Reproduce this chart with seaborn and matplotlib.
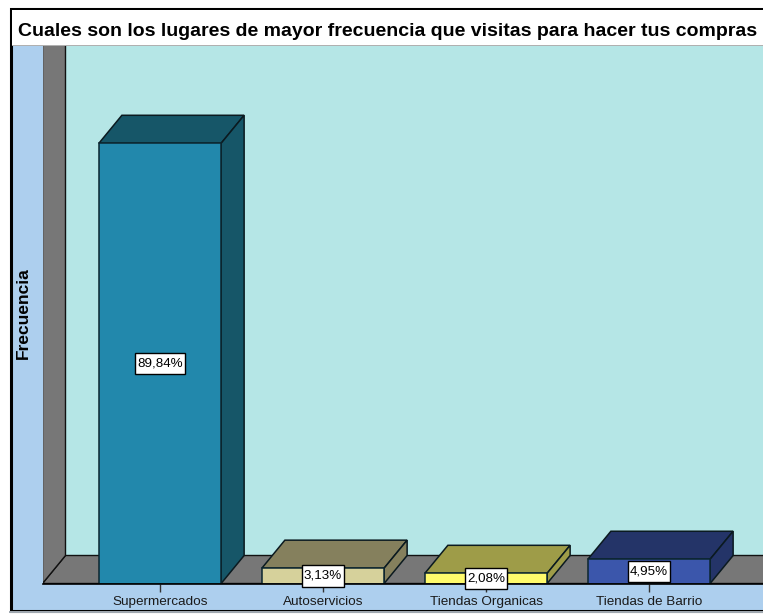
import matplotlib
matplotlib.use("Agg")
import matplotlib.pyplot as plt
from matplotlib.patches import Polygon, Rectangle
from matplotlib.path import Path
import pandas as pd
import seaborn as sns

categories = ["Supermercados", "Autoservicios", "Tiendas Organicas", "Tiendas de Barrio"]
percentages = [89.84, 3.13, 2.08, 4.95]
labels = ["89,84%", "3,13%", "2,08%", "4,95%"]
front_colors = ["#2288AC", "#D6D19B", "#FFFB6C", "#3B56AB"]
shade_colors = ["#165668", "#85805D", "#9E9C48", "#243468"]
title = "Cuales son los lugares de mayor frecuencia que visitas para hacer tus compras"
ylabel = "Frecuencia"

W, H = 763, 616
plt.rcParams["font.family"] = ["Liberation Sans", "DejaVu Sans"]
fig = plt.figure(figsize=(W / 100, H / 100), dpi=100, facecolor="white")


def fx(x):
    return x / W


def fy(y):
    return 1 - y / H


def frect(x0, y0, x1, y1, **kw):
    fig.add_artist(Rectangle((fx(x0), fy(y1)), (x1 - x0) / W, (y1 - y0) / H,
                             transform=fig.transFigure, **kw))


def label_box(x0, y0, width, height, mutation_size):
    """Square box with a small side margin and a taller vertical margin."""
    px = 0.17 * mutation_size
    py = 0.36 * mutation_size
    a, b, c, d = x0 - px, y0 - py, x0 + width + px, y0 + height + py
    return Path([(a, b), (c, b), (c, d), (a, d), (a, b)], closed=True)


# outer frame and panels
frect(10.5, 9, W + 5, 611, facecolor="#ADCFEE", edgecolor="black", linewidth=2.2, zorder=-5)
frect(12, 10, W + 5, 45.5, facecolor="white", edgecolor="none", zorder=-4)
frect(12, 45, W + 5, 46, facecolor="#B0B0B0", edgecolor="none", zorder=-4)
frect(9, 610.5, W + 5, 612.5, facecolor="#A0A8B0", edgecolor="none", zorder=-4)

# plot axes: left edge is the front of the left wall, bottom is the floor front
ax = fig.add_axes([fx(42.5), fy(583.5), (W - 42.5) / W, (583.5 - 46) / H])
ax.set_facecolor("#B5E6E6")

df = pd.DataFrame({"cat": categories, "pct": percentages})
sns.barplot(data=df, x="cat", y="pct", hue="cat", order=categories, hue_order=categories,
            palette=front_colors, saturation=1, width=0.75, dodge=False, legend=False,
            edgecolor="#0B2630", linewidth=1.1, ax=ax, zorder=5)

px_per_cat = 163
px_per_pct = 4.9
ax.set_xlim(-(160 - 42.5) / px_per_cat, (W - 160) / px_per_cat)
ax.set_ylim(0, (583.5 - 46) / px_per_pct)
ymax = ax.get_ylim()[1]
x0, x1 = ax.get_xlim()
dx = 23 / px_per_cat
dy = 28 / px_per_pct

grey = "#777777"
edge = "#111111"
ax.add_patch(Polygon([(x0, 0), (x0 + dx, dy), (x1 + 1, dy), (x1 + 1, 0)], closed=True,
                     facecolor=grey, edgecolor=edge, linewidth=1.0, zorder=1, clip_on=True))
ax.add_patch(Polygon([(x0, 0), (x0 + dx, dy), (x0 + dx, ymax + 1), (x0, ymax + 1)], closed=True,
                     facecolor=grey, edgecolor=edge, linewidth=1.0, zorder=2))

for bar, shade, lab in zip(ax.patches[:4], shade_colors, labels):
    l = bar.get_x()
    r = l + bar.get_width()
    h = bar.get_height()
    ax.add_patch(Polygon([(l, h), (l + dx, h + dy), (r + dx, h + dy), (r, h)], closed=True,
                         facecolor=shade, edgecolor="#0B1A20", linewidth=1.1, zorder=4))
    ax.add_patch(Polygon([(r, 0), (r + dx, dy), (r + dx, h + dy), (r, h)], closed=True,
                         facecolor=shade, edgecolor="#0B1A20", linewidth=1.1, zorder=4))
    ax.text(l + bar.get_width() / 2, h / 2, lab, ha="center", va="center", fontsize=9.6,
            color="black", zorder=8, clip_on=False,
            bbox=dict(boxstyle=label_box, facecolor="white", edgecolor="black", linewidth=1.0))

for s in ["top", "right", "left"]:
    ax.spines[s].set_visible(False)
ax.spines["bottom"].set_color("black")
ax.spines["bottom"].set_linewidth(1.2)
ax.spines["bottom"].set_zorder(6)
ax.set_xlabel("")
ax.set_ylabel("")
ax.set_yticks([])
ax.tick_params(axis="x", length=5.5, width=1.0, color="#333333", pad=3.5, labelsize=9.7, labelcolor="#1A1A1A")

fig.text(fx(18), fy(31), title, ha="left", va="center", fontsize=14, fontweight="bold", color="black")
fig.text(fx(23), fy(313), ylabel, ha="center", va="center", rotation=90, fontsize=12.5, fontweight="bold", color="black")

fig.savefig("out.png", dpi=100, facecolor="white")
